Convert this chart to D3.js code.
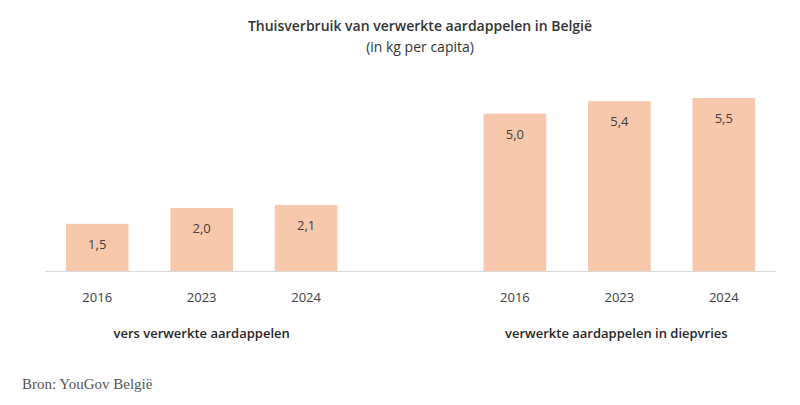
<!DOCTYPE html>
<html><head><meta charset="utf-8">
<script src="https://cdn.jsdelivr.net/npm/d3@7"></script>
<style>body{margin:0;background:#fff}</style></head>
<body><svg id="c" width="800" height="405"></svg>
<script>
const groups = ["vers verwerkte aardappelen", "verwerkte aardappelen in diepvries"];
const years = ["2016", "2023", "2024"];
const versValues = [1.5, 2.0, 2.1];
const diepvriesValues = [5.0, 5.4, 5.5];

const svg = d3.select("#c");
const font = "'Open Sans', 'Noto Sans', sans-serif";
const data = [];
years.forEach((y,i)=>data.push({key:"a"+i, year:y, v:versValues[i]}));
years.forEach((y,i)=>data.push({key:"b"+i, year:y, v:diepvriesValues[i]}));
const slots = ["a0","a1","a2","gap","b0","b1","b2"];
const x = d3.scaleBand().domain(slots).range([45,776]).paddingInner(0.4).paddingOuter(0.2);
const y = d3.scaleLinear().domain([0,5.5]).range([271,98]);

svg.append("text").attr("x",420).attr("y",31).attr("text-anchor","middle")
  .attr("font-family",font).attr("font-size",14).attr("font-weight",600).attr("fill","#333")
  .text("Thuisverbruik van verwerkte aardappelen in België");
svg.append("text").attr("x",420).attr("y",52).attr("text-anchor","middle")
  .attr("font-family",font).attr("font-size",14).attr("fill","#333").text("(in kg per capita)");

svg.selectAll("rect.bar").data(data).join("rect").attr("class","bar")
  .attr("x",d=>x(d.key)).attr("width",x.bandwidth())
  .attr("y",d=>y(d.v)).attr("height",d=>y(0)-y(d.v)).attr("fill","#F8C8AC");
svg.selectAll("text.val").data(data).join("text").attr("class","val")
  .attr("x",d=>x(d.key)+x.bandwidth()/2).attr("y",d=>y(d.v)+25).attr("text-anchor","middle")
  .attr("font-family",font).attr("font-size",13).attr("fill","#404040")
  .text(d=>d3.format(".1f")(d.v).replace(".",","));
svg.append("line").attr("x1",45).attr("x2",776).attr("y1",y(0)+0.5).attr("y2",y(0)+0.5)
  .attr("stroke","#d9d9d9");
svg.selectAll("text.yr").data(data).join("text").attr("class","yr")
  .attr("x",d=>x(d.key)+x.bandwidth()/2).attr("y",302).attr("text-anchor","middle")
  .attr("font-family",font).attr("font-size",13).attr("fill","#404040").text(d=>d.year);
svg.selectAll("text.grp").data(groups).join("text").attr("class","grp")
  .attr("x",(d,i)=>i===0 ? x("a1")+x.bandwidth()/2 : x("b1")+x.bandwidth()/2 - 3)
  .attr("y",338).attr("text-anchor","middle")
  .attr("font-family",font).attr("font-size",13).attr("font-weight",600).attr("fill","#262626").text(d=>d);
svg.append("text").attr("x",22).attr("y",389).attr("font-family","'Liberation Serif', serif")
  .attr("font-size",15).attr("fill","#555").text("Bron: YouGov België");
</script></body></html>
